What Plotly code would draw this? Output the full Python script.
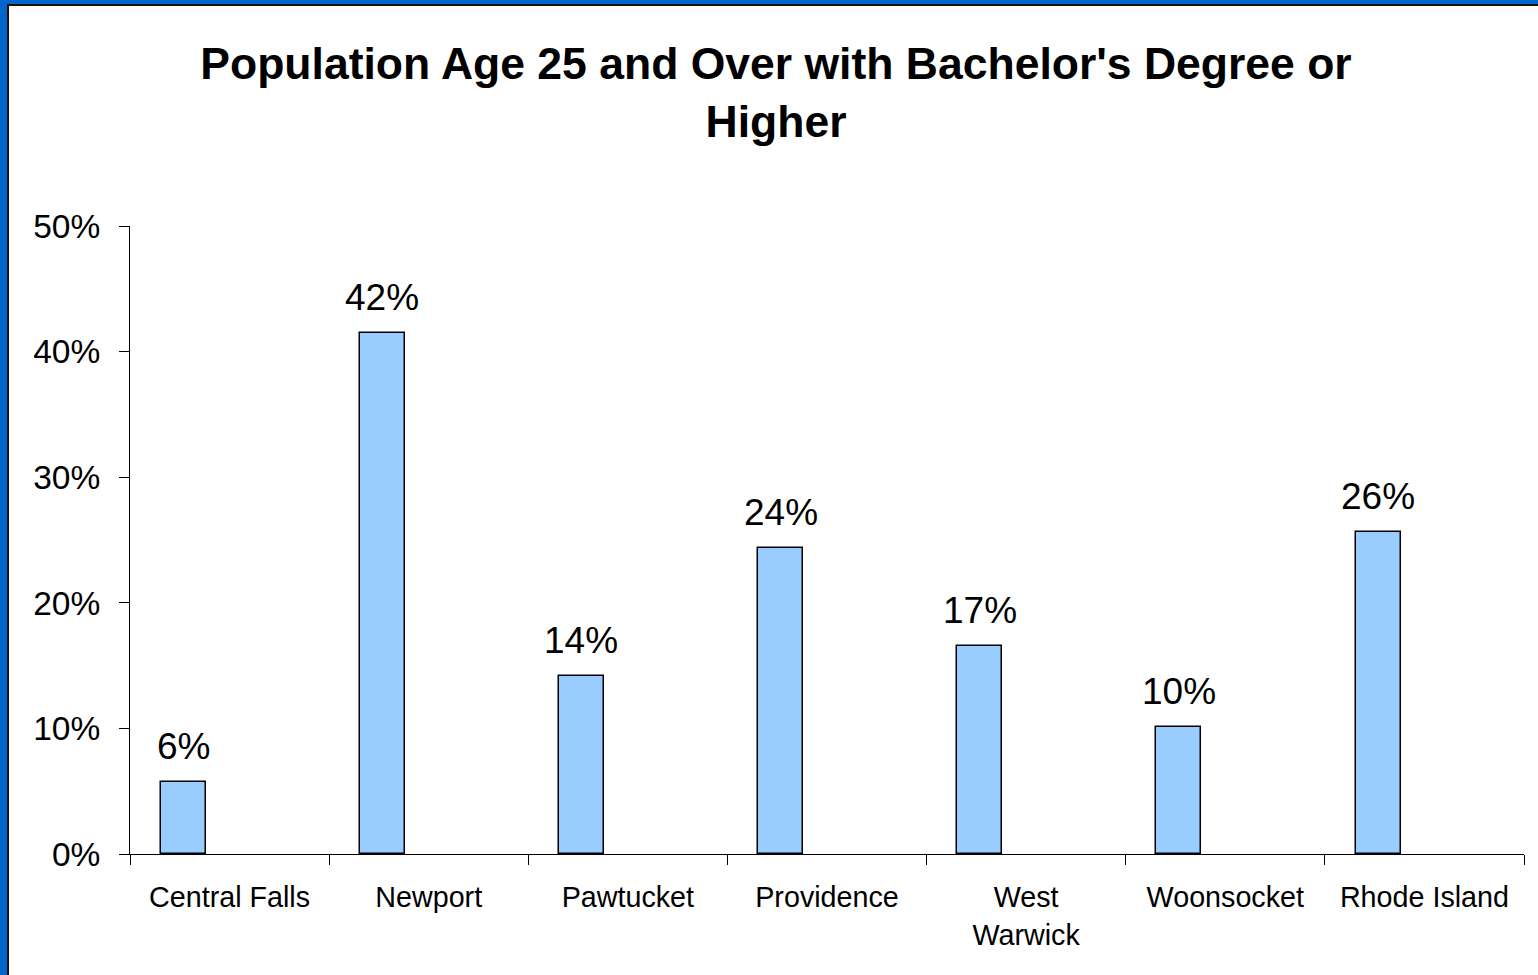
import plotly.graph_objects as go

categories = ["Central Falls", "Newport", "Pawtucket", "Providence", "West<br>Warwick", "Woonsocket", "Rhode Island"]
values_pct = [5.7, 41.5, 14.2, 24.4, 16.6, 10.1, 25.6]
value_labels = ["6%", "42%", "14%", "24%", "17%", "10%", "26%"]
y_tick_vals = [0, 10, 20, 30, 40, 50]
y_tick_text = ["0%", "10%", "20%", "30%", "40%", "50%"]

W, H = 1538, 975
ML, MR, MT, MB = 130, 14, 226, 121
PW, PH = W - ML - MR, H - MT - MB

BAR_W = 0.226
BAR_OFF = -0.346
FONT = "Liberation Sans, Arial, sans-serif"

fig = go.Figure()
fig.add_trace(go.Bar(
    x=categories, y=values_pct,
    width=BAR_W, offset=BAR_OFF,
    marker=dict(color="#99CCFF", line=dict(color="black", width=1.5)),
    hoverinfo="x+y", showlegend=False,
))

for i, (v, lab) in enumerate(zip(values_pct, value_labels)):
    fig.add_annotation(
        x=i + BAR_OFF + BAR_W / 2, y=v, xref="x", yref="y",
        text=lab, showarrow=False, yanchor="bottom", xanchor="center",
        yshift=13, font=dict(family=FONT, size=37, color="black"),
    )

def px_x(p):
    return (p - ML) / PW

def px_y(p):
    return (H - MB - p) / PH

shapes = [
    dict(type="rect", xref="paper", yref="paper", x0=px_x(0), x1=px_x(7), y0=px_y(H), y1=px_y(0),
         fillcolor="#0066CC", line=dict(width=0), layer="above"),
    dict(type="rect", xref="paper", yref="paper", x0=px_x(0), x1=px_x(W), y0=px_y(4), y1=px_y(0),
         fillcolor="#0066CC", line=dict(width=0), layer="above"),
    dict(type="rect", xref="paper", yref="paper", x0=px_x(7), x1=px_x(9), y0=px_y(H), y1=px_y(4),
         fillcolor="#111111", line=dict(width=0), layer="above"),
    dict(type="rect", xref="paper", yref="paper", x0=px_x(7), x1=px_x(W), y0=px_y(6), y1=px_y(4),
         fillcolor="#111111", line=dict(width=0), layer="above"),
]

fig.update_layout(
    width=W, height=H,
    margin=dict(l=ML, r=MR, t=MT, b=MB, pad=0),
    paper_bgcolor="white", plot_bgcolor="white",
    title=dict(
        text="<b>Population Age 25 and Over with Bachelor's Degree or<br>Higher</b>",
        x=776 / W, xref="container", xanchor="center",
        y=1 - 79 / H, yref="container", yanchor="top",
        font=dict(family=FONT, size=44.5, color="black"),
    ),
    shapes=shapes,
    bargap=0,
)

fig.update_xaxes(
    type="category", tickson="boundaries", ticks="outside", ticklen=10,
    tickcolor="black", tickwidth=1, showline=True, linecolor="black", linewidth=1,
    showgrid=False, tickfont=dict(family=FONT, size=28.7, color="black"),
    range=[-0.5, 6.5], ticklabelstandoff=18,
)
fig.update_yaxes(
    range=[0, 50], tickvals=y_tick_vals, ticktext=y_tick_text,
    ticks="outside", ticklen=10, tickcolor="black", tickwidth=1,
    showline=True, linecolor="black", linewidth=1, showgrid=False, zeroline=False,
    tickfont=dict(family=FONT, size=33.5, color="black"), ticklabelstandoff=12,
)

fig.write_html(
    "out.html",
    config={"displayModeBar": False},
    post_script="document.body.style.margin='0';document.body.style.overflow='hidden';",
)
